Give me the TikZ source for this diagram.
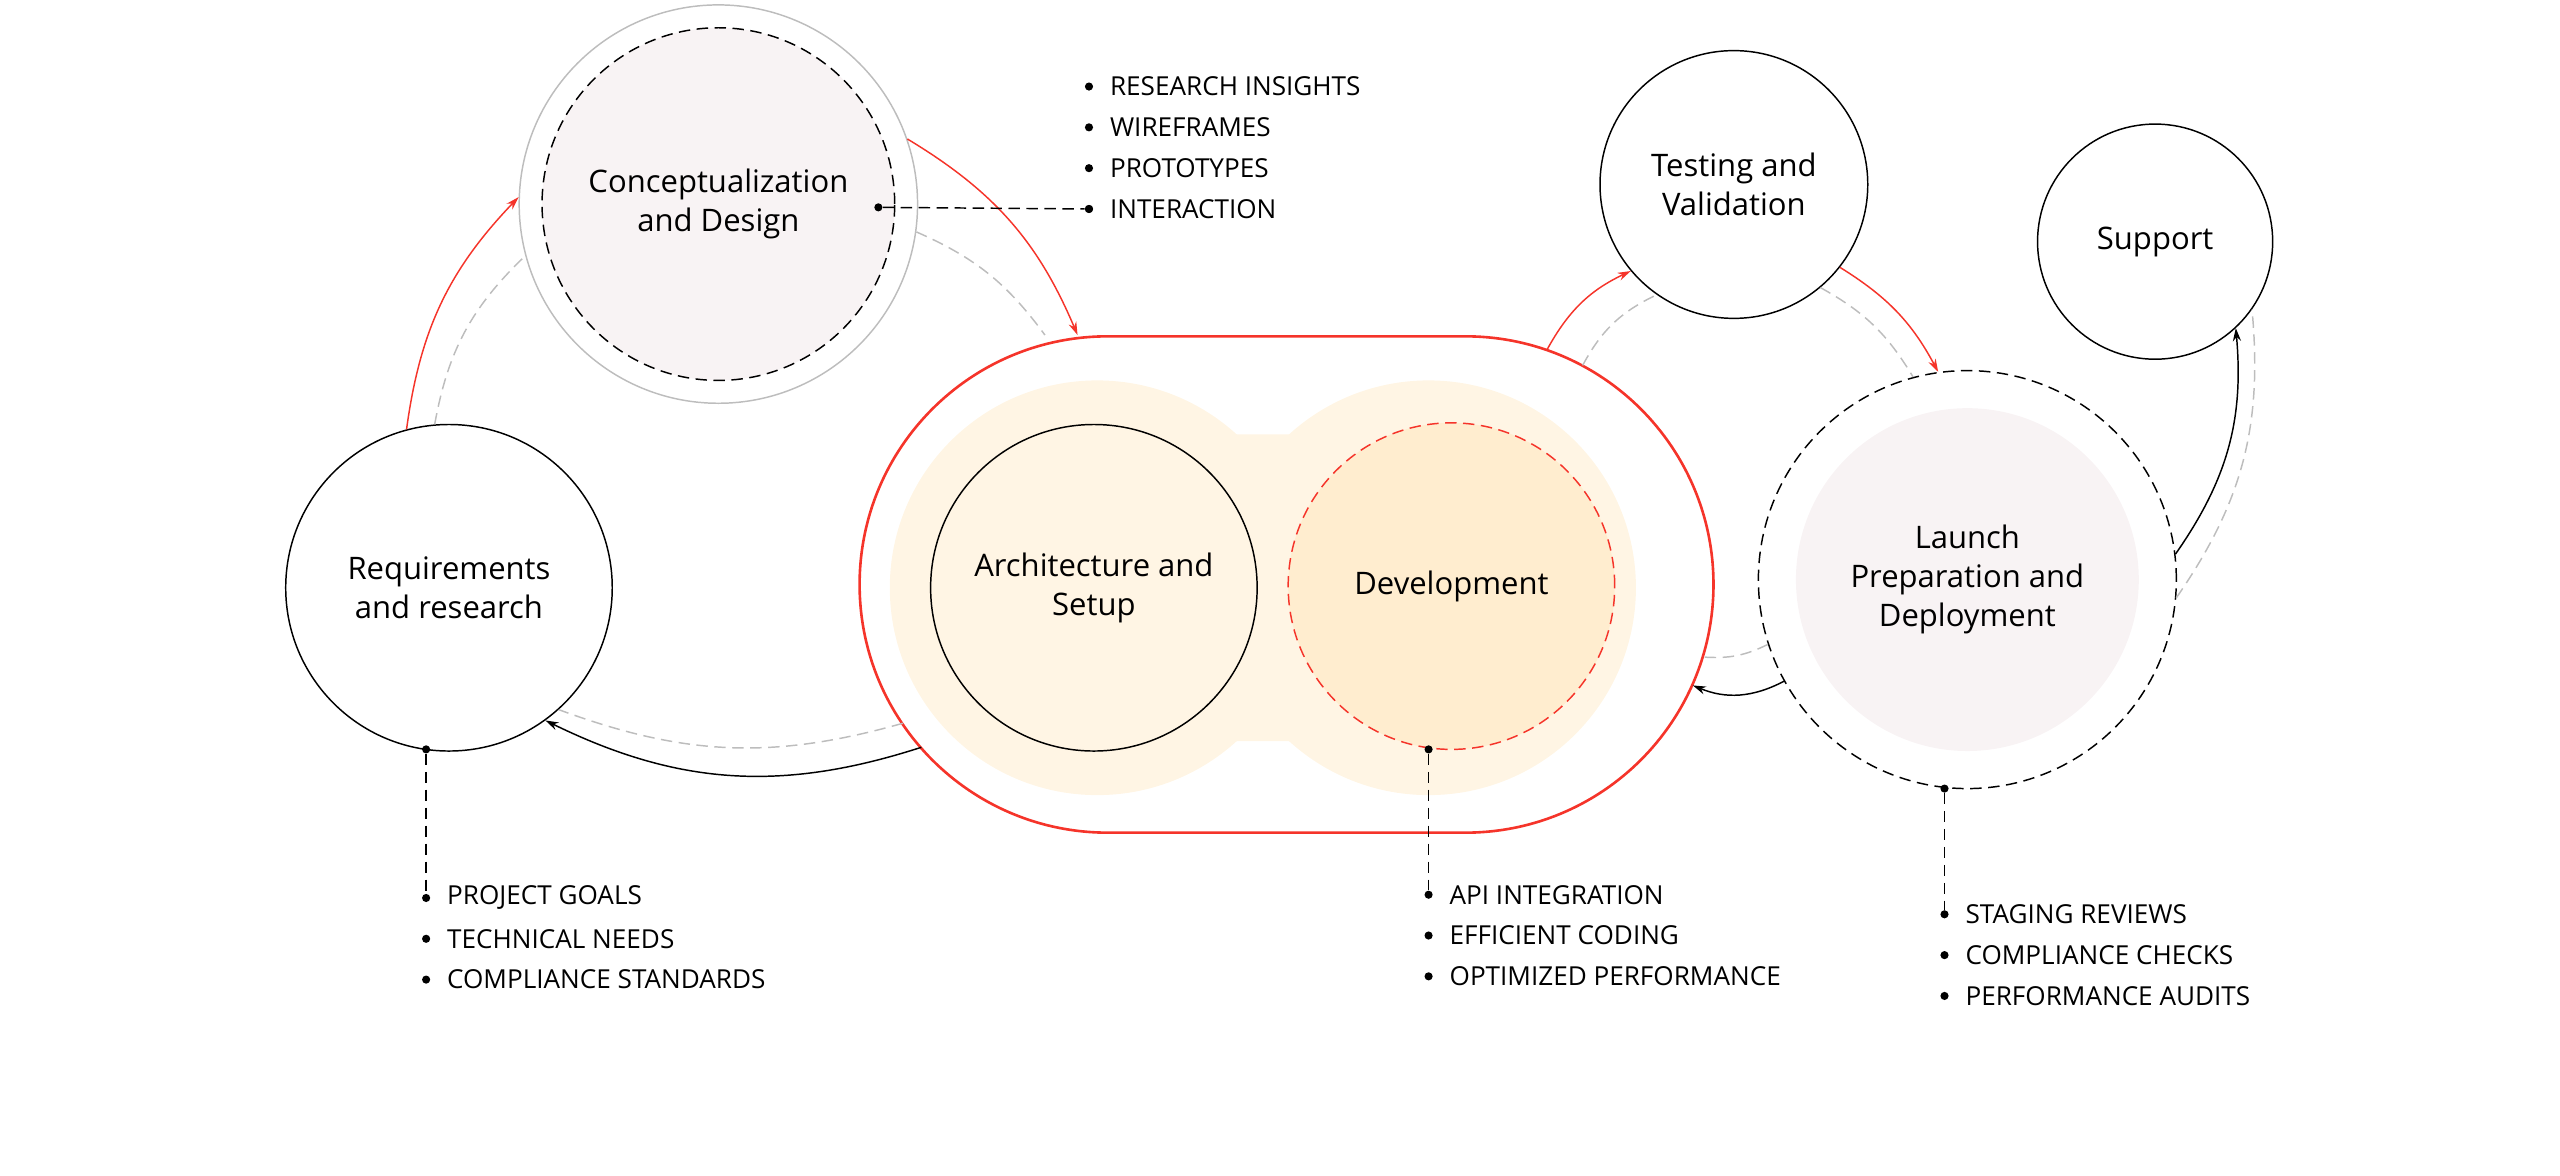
\documentclass[tikz,border=0pt]{standalone}
\usepackage{fontspec}
\setmainfont{Open Sans}
\usetikzlibrary{positioning,calc,arrows.meta}
\definecolor{lred}{HTML}{F5342A}
\definecolor{lgray}{HTML}{BDBDBD}
\definecolor{blush}{HTML}{F8F3F4}
\definecolor{cream}{HTML}{FFF5E4}
\definecolor{peach}{HTML}{FFEDCF}
\begin{document}
\begin{tikzpicture}[
    x=1pt, y=-1pt,
 phase/.style = {
        draw, circle, align=center, line width=0.9pt,
        font=\fontsize{19}{24}\selectfont, inner sep=0pt},
 longdash/.style = {dash pattern=on 7pt off 4pt},
 item/.style = {
        anchor=west, inner sep=0pt,
        font=\fontsize{16}{18}\selectfont},
 dot/.style = {
        circle, fill=black, inner sep=0pt, minimum size=5pt},
 flow/.style = {lred, line width=0.9pt, -{Stealth[length=8pt,width=5pt]}},
 back/.style = {black, line width=0.9pt, -{Stealth[length=8pt,width=5pt]}},
 ghost/.style = {lgray, line width=0.9pt, longdash},
 lead/.style = {black, line width=0.9pt, longdash}
                    ]
\useasboundingbox (0,0) rectangle (1568,720);
% the cream blob behind the two middle phases
\fill[cream] (672,360) circle (127) (875,360) circle (127);
\fill[cream, rounded corners=30] (672,266) rectangle (875,454);
% the phases
\node (con) [phase, draw=lgray, minimum size=244pt] at (440,125) {};
\node (conin) [phase, longdash, fill=blush, minimum size=216pt] at (440,125)
                                        {Conceptualization\\and Design};
\node (req) [phase, minimum size=200pt] at (275,360) {Requirements\\and research};
\node (stad) [draw=lred, line width=1.6pt, rounded corners=152pt,
              minimum width=523pt, minimum height=304pt] at (788,358) {};
\coordinate (stl) at (679,358);
\coordinate (str) at (898,358);
\node (arch) [phase, fill=cream, minimum size=200pt] at (670,360)
                                        {Architecture and\\Setup};
\node (dev) [phase, draw=lred, longdash, fill=peach, minimum size=200pt] at (889,359)
                                        {Development};
\node (test) [phase, minimum size=164pt] at (1062,113) {Testing and\\Validation};
\node (lau) [phase, longdash, minimum size=256pt] at (1205,355) {};
\node (lauin) [phase, draw=none, fill=blush, minimum size=210pt] at (1205,355)
                                        {Launch\\Preparation and\\Deployment};
\node (sup) [phase, minimum size=144pt] at (1320,148) {Support};
% points on the stadium (y runs down)
\path (stl) ++(-221:152) coordinate (s1)
      (stl) ++(-214:152) coordinate (s2)
      (str) ++(-71:152) coordinate (s3)
      (str) ++(-62:152) coordinate (s4)
      (str) ++(24:152) coordinate (s5)
      (str) ++(17:152) coordinate (s6);
% the cycle
\draw[ghost] (req.95) to[bend left=18] (con.195);
\draw[flow] (req.105) to[bend left=18] (con.178);
\draw[ghost] (con.-8) to[bend left=15] ([xshift=-148pt]stad.north);
\draw[flow] (con.19) to[bend left=18] ([xshift=-128pt]stad.north);
\draw[ghost] (s2) to[bend left=18] (req.-48);
\draw[back] (s1) to[bend left=22] (req.-54);
\draw[ghost] (s4) to[bend left=18] (test.235);
\draw[flow] (s3) to[bend left=18] (test.220);
\draw[ghost] (test.-50) to[bend left=15] (lau.105);
\draw[flow] (test.-38) to[bend left=15] (lau.98);
\draw[ghost] (lau.198) to[bend left=15] (s6);
\draw[back] (lau.209) to[bend left=25] (s5);
\draw[ghost] (lau.-5) to[bend right=20] (sup.-35);
\draw[back] (lau.7) to[bend right=20] (sup.-47);
% the lists
\node (d1) [dot] at (538,127) {};
\node (d1e) [dot] at (667,128) {};
\draw[lead] (d1) -- (d1e);
\foreach \t [count=\i] in {RESEARCH INSIGHTS,WIREFRAMES,PROTOTYPES,INTERACTION}
  \node[dot] (c\i) at (667,28+25*\i) {} node[item, right=10pt of c\i] {\t};
\node (d2) [dot] at (261,459) {};
\foreach \t [count=\i] in {PROJECT GOALS,TECHNICAL NEEDS,COMPLIANCE STANDARDS}
  \node[dot] (r\i) at (261,525+25*\i) {} node[item, right=10pt of r\i] {\t};
\draw[lead] (d2) -- (r1);
\node (d3) [dot] at (875,459) {};
\foreach \t [count=\i] in {API INTEGRATION,EFFICIENT CODING,OPTIMIZED PERFORMANCE}
  \node[dot] (v\i) at (875,523+25*\i) {} node[item, right=10pt of v\i] {\t};
\draw[lead] (d3) -- (v1);
\node (d4) [dot] at (1191,483) {};
\foreach \t [count=\i] in {STAGING REVIEWS,COMPLIANCE CHECKS,PERFORMANCE AUDITS}
  \node[dot] (l\i) at (1191,535+25*\i) {} node[item, right=10pt of l\i] {\t};
\draw[lead] (d4) -- (l1);
\end{tikzpicture}
\end{document}
